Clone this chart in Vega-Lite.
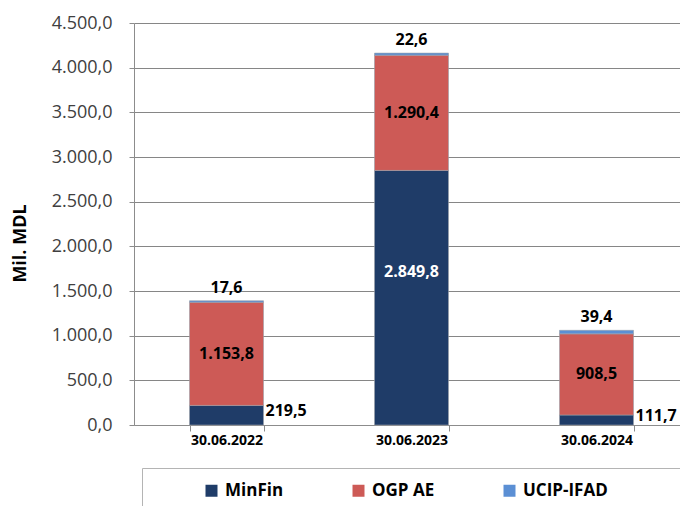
{
  "$schema": "https://vega.github.io/schema/vega-lite/v6.json",
  "autosize": {"type": "none"},
  "width": 546,
  "height": 402,
  "padding": {"left": 134, "top": 23, "right": 0, "bottom": 81},
  "background": "white",
  "data": {
    "values": [
      {"date": "30.06.2022", "series": "MinFin", "value": 219.5},
      {"date": "30.06.2022", "series": "OGP AE", "value": 1153.8},
      {"date": "30.06.2022", "series": "UCIP-IFAD", "value": 17.6},
      {"date": "30.06.2023", "series": "MinFin", "value": 2849.8},
      {"date": "30.06.2023", "series": "OGP AE", "value": 1290.4},
      {"date": "30.06.2023", "series": "UCIP-IFAD", "value": 22.6},
      {"date": "30.06.2024", "series": "MinFin", "value": 111.7},
      {"date": "30.06.2024", "series": "OGP AE", "value": 908.5},
      {"date": "30.06.2024", "series": "UCIP-IFAD", "value": 39.4}
    ]
  },
  "encoding": {
    "x": {
      "field": "date", "type": "nominal", "sort": null,
      "scale": {"range": [0, 555], "paddingInner": 0.6, "paddingOuter": 0.3},
      "axis": {
        "title": null, "labelAngle": 0, "labelFontSize": 14, "labelFontWeight": "bold",
        "labelColor": "#000000", "labelPadding": 2, "tickSize": 6, "tickBand": "extent",
        "domainColor": "#8c8c8c", "tickColor": "#8c8c8c", "grid": false
      }
    },
    "y": {
      "field": "value", "type": "quantitative", "stack": "zero",
      "scale": {"domain": [0, 4500], "nice": false},
      "axis": {
        "values": [0, 500, 1000, 1500, 2000, 2500, 3000, 3500, 4000, 4500],
        "format": ",.1f", "labelFontSize": 18, "labelColor": "#404040", "labelPadding": 17,
        "tickSize": 5, "tickColor": "#8c8c8c", "domainColor": "#8c8c8c",
        "grid": true, "gridColor": "#868686", "gridWidth": 1,
        "title": "Mil. MDL", "titleFontSize": 18, "titleFontWeight": "bold", "titleColor": "#000000",
        "titleAngle": 270, "titleX": -113.5, "titleY": 220, "titleAlign": "center", "titleBaseline": "middle"
      }
    },
    "order": {"field": "series", "sort": "ascending"}
  },
  "layer": [
    {
      "mark": {"type": "bar", "stroke": "#9aa0a8", "strokeWidth": 0.6},
      "encoding": {
        "color": {
          "field": "series", "type": "nominal",
          "scale": {"domain": ["MinFin", "OGP AE", "UCIP-IFAD", " "], "range": ["#1f3c68", "#cd5a56", "#5b8fd4", "transparent"]},
          "legend": {
            "title": " ", "titleOrient": "left", "titlePadding": 47, "titleFontSize": 17,
            "orient": "none", "legendX": 8, "legendY": 445, "direction": "horizontal", "columns": 4,
            "padding": 14, "strokeColor": "#b4b4b4", "fillColor": "white",
            "symbolType": "square", "symbolSize": 144, "symbolStrokeWidth": 0,
            "labelFontSize": 17, "labelFontWeight": "bold", "labelColor": "#000000",
            "labelOffset": 5, "columnPadding": 66
          }
        }
      }
    },
    {
      "mark": {"type": "text", "fontSize": 16, "fontWeight": "bold", "color": "#000000", "baseline": "middle"},
      "encoding": {
        "y": {"field": "value", "type": "quantitative", "stack": "zero", "bandPosition": 0.5},
        "detail": {"field": "series"},
        "text": {"condition": {"test": "datum.series === 'OGP AE'", "field": "value", "type": "quantitative", "format": ",.1f"}, "value": ""}
      }
    },
    {
      "mark": {"type": "text", "fontSize": 16, "fontWeight": "bold", "color": "#ffffff", "baseline": "middle"},
      "encoding": {
        "y": {"field": "value", "type": "quantitative", "stack": "zero", "bandPosition": 0.6},
        "detail": {"field": "series"},
        "text": {"condition": {"test": "datum.series === 'MinFin' && datum.value > 1000", "field": "value", "type": "quantitative", "format": ",.1f"}, "value": ""}
      }
    },
    {
      "mark": {"type": "text", "fontSize": 16, "fontWeight": "bold", "color": "#000000", "baseline": "middle", "align": "left", "dx": 39, "dy": -4},
      "encoding": {
        "y": {"field": "value", "type": "quantitative", "stack": "zero", "bandPosition": 0.5},
        "detail": {"field": "series"},
        "text": {"condition": {"test": "datum.series === 'MinFin' && datum.value < 1000", "field": "value", "type": "quantitative", "format": ",.1f"}, "value": ""}
      }
    },
    {
      "mark": {"type": "text", "fontSize": 16, "fontWeight": "bold", "color": "#000000", "baseline": "middle", "dy": -13},
      "encoding": {
        "y": {"field": "value", "type": "quantitative", "stack": "zero", "bandPosition": 1},
        "detail": {"field": "series"},
        "text": {"condition": {"test": "datum.series === 'UCIP-IFAD'", "field": "value", "type": "quantitative", "format": ",.1f"}, "value": ""}
      }
    }
  ],
  "config": {
    "font": "Open Sans",
    "view": {"stroke": null},
    "locale": {"number": {"decimal": ",", "thousands": ".", "grouping": [3], "currency": ["", ""]}}
  }
}
